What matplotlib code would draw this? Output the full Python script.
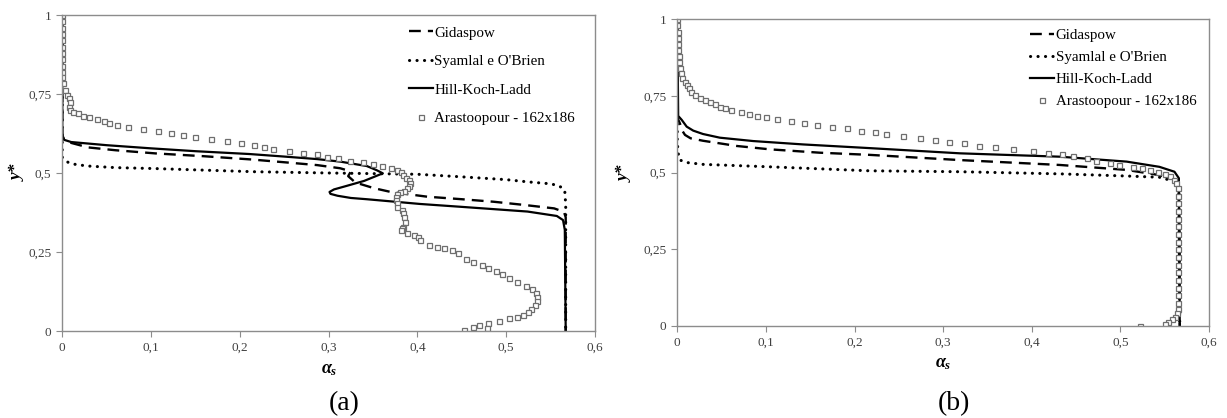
import numpy as np
import matplotlib
matplotlib.use("Agg")
import matplotlib.pyplot as plt
from matplotlib.ticker import FixedLocator, FuncFormatter

plt.rcParams["font.family"] = ["Liberation Serif", "DejaVu Serif"]
plt.rcParams["mathtext.fontset"] = "custom"
plt.rcParams["mathtext.it"] = "Liberation Serif:italic:bold"
plt.rcParams["mathtext.rm"] = "Liberation Serif:bold"

# ---- painel (a) ----
a_gid_x = [0, 0, 0.002, 0.005, 0.029, 0.06, 0.105, 0.16, 0.212, 0.25, 0.287, 0.313,
           0.325, 0.322, 0.33, 0.351, 0.37, 0.411, 0.45, 0.486, 0.52, 0.554, 0.565,
           0.567, 0.567]
a_gid_y = [1.0, 0.62, 0.605, 0.599, 0.581, 0.572, 0.562, 0.553, 0.543, 0.534, 0.525, 0.515,
           0.505, 0.49, 0.47, 0.452, 0.44, 0.425, 0.417, 0.409, 0.399, 0.388, 0.377,
           0.36, 0.0]

a_sya_x = [0, 0, 0.003, 0.007, 0.015, 0.029, 0.06, 0.105, 0.16, 0.217, 0.3, 0.4, 0.449,
           0.5, 0.524, 0.545, 0.557, 0.564, 0.566, 0.567, 0.567]
a_sya_y = [1.0, 0.55, 0.54, 0.533, 0.527, 0.522, 0.517, 0.514, 0.509, 0.504, 0.5, 0.496, 0.488,
           0.479, 0.472, 0.467, 0.462, 0.452, 0.441, 0.4, 0.0]

a_hkl_x = [0, 0, 0.002, 0.01, 0.05, 0.1, 0.15, 0.211, 0.25, 0.287, 0.313, 0.343, 0.354,
           0.361, 0.34, 0.32, 0.306, 0.301, 0.302, 0.31, 0.325, 0.343, 0.403, 0.449,
           0.524, 0.557, 0.564, 0.566, 0.567]
a_hkl_y = [1.0, 0.62, 0.605, 0.598, 0.588, 0.578, 0.569, 0.56, 0.552, 0.544, 0.536, 0.522, 0.509,
           0.499, 0.475, 0.459, 0.448, 0.44, 0.434, 0.428, 0.421, 0.417, 0.402, 0.393,
           0.378, 0.364, 0.351, 0.32, 0.0]

a_ara_x = [0.0, 0.0, 0.0, 0.0, 0.0, 0.0, 0.0, 0.0, 0.0, 0.0, 0.0, 0.0012, 0.003, 0.005,
           0.0071, 0.0087, 0.008, 0.0087, 0.0124, 0.0173, 0.023, 0.030, 0.0388, 0.047,
           0.053, 0.062, 0.074, 0.091, 0.108, 0.1225, 0.136, 0.15, 0.167, 0.185, 0.201,
           0.216, 0.227, 0.237, 0.255, 0.271, 0.287, 0.298, 0.31, 0.324, 0.339, 0.35,
           0.36, 0.37, 0.377, 0.3815, 0.384, 0.387, 0.39, 0.392, 0.391, 0.388, 0.385,
           0.38, 0.377, 0.376, 0.376, 0.377, 0.377, 0.383, 0.384, 0.385, 0.386, 0.384,
           0.383, 0.381, 0.388, 0.396, 0.401, 0.403, 0.413, 0.422, 0.43, 0.439, 0.446,
           0.455, 0.463, 0.473, 0.48, 0.488, 0.495, 0.503, 0.512, 0.522, 0.529, 0.533,
           0.535, 0.535, 0.532, 0.528, 0.524, 0.519, 0.512, 0.503, 0.492, 0.48, 0.478,
           0.469, 0.463, 0.452]
a_ara_y = [1.0, 0.98, 0.96, 0.94, 0.92, 0.9, 0.88, 0.86, 0.84, 0.82, 0.805, 0.784, 0.763, 0.747,
           0.736, 0.726, 0.71, 0.70, 0.694, 0.689, 0.680, 0.676, 0.672, 0.665,
           0.657, 0.652, 0.645, 0.639, 0.632, 0.628, 0.619, 0.615, 0.608, 0.602, 0.596,
           0.590, 0.583, 0.576, 0.571, 0.564, 0.559, 0.552, 0.546, 0.539, 0.534, 0.527,
           0.522, 0.515, 0.509, 0.502, 0.494, 0.485, 0.478, 0.469, 0.46, 0.452, 0.443,
           0.441, 0.434, 0.425, 0.415, 0.404, 0.391, 0.383, 0.372, 0.36, 0.346, 0.33,
           0.325, 0.32, 0.311, 0.304, 0.296, 0.288, 0.272, 0.267, 0.262, 0.256, 0.246,
           0.228, 0.219, 0.209, 0.2, 0.191, 0.18, 0.167, 0.156, 0.142, 0.132, 0.121,
           0.109, 0.096, 0.082, 0.069, 0.059, 0.051, 0.045, 0.04, 0.033, 0.026, 0.008,
           0.019, 0.014, 0.003]

# ---- painel (b) ----
b_gid_x = [0, 0.0, 0.003, 0.006, 0.0087, 0.015, 0.029, 0.067, 0.1045, 0.161, 0.217, 0.319,
           0.432, 0.507, 0.544, 0.563, 0.566, 0.567]
b_gid_y = [1.0, 0.68, 0.66, 0.635, 0.623, 0.612, 0.604, 0.587, 0.576, 0.565, 0.558, 0.541,
           0.525, 0.509, 0.492, 0.476, 0.46, 0.0]

b_sya_x = [0, 0, 0.001, 0.003, 0.0106, 0.029, 0.1045, 0.217, 0.319, 0.432, 0.507, 0.544,
           0.563, 0.566, 0.567]
b_sya_y = [1.0, 0.6, 0.563, 0.541, 0.533, 0.527, 0.519, 0.506, 0.503, 0.496, 0.489, 0.485,
           0.47, 0.45, 0.0]

b_hkl_x = [0, 0.001, 0.005, 0.0106, 0.018, 0.029, 0.048, 0.0857, 0.142, 0.217, 0.319, 0.432,
           0.507, 0.544, 0.561, 0.566, 0.567]
b_hkl_y = [1.0, 0.685, 0.672, 0.65, 0.637, 0.626, 0.614, 0.603, 0.592, 0.58, 0.563, 0.552,
           0.536, 0.519, 0.503, 0.482, 0.0]

b_ara_x = [0.0, 0.0, 0.001, 0.001, 0.001, 0.001, 0.002, 0.002, 0.003, 0.004, 0.0056, 0.0087,
           0.0106, 0.0135, 0.016, 0.02, 0.0256, 0.031, 0.0369, 0.0425, 0.048, 0.054,
           0.061, 0.0715, 0.081, 0.0895, 0.0997, 0.113, 0.128, 0.143, 0.158, 0.175, 0.191,
           0.207, 0.223, 0.236, 0.255, 0.274, 0.291, 0.307, 0.323, 0.341, 0.359, 0.379,
           0.401, 0.418, 0.434, 0.447, 0.462, 0.473, 0.488, 0.499, 0.514, 0.524, 0.533,
           0.542, 0.55, 0.556, 0.561, 0.563, 0.565, 0.565, 0.565, 0.565, 0.565, 0.565,
           0.565, 0.565, 0.565, 0.565, 0.565, 0.565, 0.565, 0.565, 0.565, 0.565, 0.565,
           0.564, 0.5615, 0.558, 0.554, 0.55, 0.522]
b_ara_y = [1.0, 0.98, 0.96, 0.94, 0.92, 0.9, 0.88, 0.86, 0.84, 0.824, 0.808, 0.797,
           0.786, 0.775, 0.764, 0.753, 0.742, 0.737, 0.729, 0.723, 0.715, 0.71,
           0.704, 0.697, 0.691, 0.685, 0.680, 0.674, 0.669, 0.661, 0.655, 0.648, 0.645,
           0.637, 0.632, 0.625, 0.62, 0.612, 0.606, 0.599, 0.596, 0.588, 0.583, 0.576,
           0.571, 0.565, 0.56, 0.554, 0.547, 0.539, 0.530, 0.525, 0.519, 0.514, 0.509,
           0.503, 0.496, 0.489, 0.476, 0.465, 0.45, 0.425, 0.4, 0.375, 0.35, 0.325,
           0.3, 0.275, 0.25, 0.225, 0.2, 0.175, 0.15, 0.125, 0.1, 0.075, 0.055,
           0.041, 0.028, 0.022, 0.014, 0.0065, 0.0]

x_ticks = [0, 0.1, 0.2, 0.3, 0.4, 0.5, 0.6]
y_ticks = [0, 0.25, 0.5, 0.75, 1]
labels = ["Gidaspow", "Syamlal e O'Brien", "Hill-Koch-Ladd", "Arastoopour - 162x186"]

W, H = 1227, 418
fig = plt.figure(figsize=(W / 100, H / 100), dpi=100)


def px_box(l, t, r, b):
    return [l / W, (H - b) / H, (r - l) / W, (b - t) / H]


def comma(v, pos):
    return ("%g" % v).replace(".", ",")


def draw_panel(ax, gid, sya, hkl, ara, leg_xy, leg_sp):
    ax.plot(gid[0], gid[1], color="black", lw=1.7, ls=(0, (5, 3)), label=labels[0])
    ax.plot(sya[0], sya[1], color="black", lw=2.2, ls=(0, (0.05, 2.4)),
            dash_capstyle="round", label=labels[1])
    ax.plot(hkl[0], hkl[1], color="black", lw=1.6, label=labels[2])
    ax.plot(ara[0], ara[1], ls="none", marker="s", ms=3.6, mfc="white",
            mec="#6e6e6e", mew=0.9, label=labels[3])
    ax.set_xlim(0, 0.6)
    ax.set_ylim(0, 1)
    ax.xaxis.set_major_locator(FixedLocator(x_ticks))
    ax.yaxis.set_major_locator(FixedLocator(y_ticks))
    ax.xaxis.set_major_formatter(FuncFormatter(comma))
    ax.yaxis.set_major_formatter(FuncFormatter(comma))
    ax.tick_params(direction="out", length=4, width=0.8, color="#8c8c8c",
                   labelsize=9.5, labelcolor="#404040", pad=4)
    for s in ax.spines.values():
        s.set_color("#8c8c8c")
        s.set_linewidth(1.0)
    ax.legend(loc="upper left", bbox_to_anchor=leg_xy, bbox_transform=fig.transFigure,
              frameon=False, fontsize=10.8, handlelength=1.6, handletextpad=0.1,
              labelspacing=leg_sp, borderpad=0, borderaxespad=0, numpoints=1)


ax1 = fig.add_axes(px_box(62.3, 15, 595, 331))
draw_panel(ax1, (a_gid_x, a_gid_y), (a_sya_x, a_sya_y), (a_hkl_x, a_hkl_y),
           (a_ara_x, a_ara_y), (409 / W, 1 - 26 / H), 1.0)

ax2 = fig.add_axes(px_box(677.3, 19.3, 1209, 326))
draw_panel(ax2, (b_gid_x, b_gid_y), (b_sya_x, b_sya_y), (b_hkl_x, b_hkl_y),
           (b_ara_x, b_ara_y), (1030 / W, 1 - 29 / H), 0.55)

# rotulos dos eixos
for cx, cy in [(18, 173), (625, 174)]:
    fig.text(cx / W, 1 - cy / H, "y*", rotation=90, ha="center", va="center",
             fontsize=12.5, fontweight="bold", fontstyle="italic")
for cx, cy in [(329, 369), (943, 363)]:
    fig.text(cx / W, 1 - cy / H, r"$\alpha_s$", ha="center", va="center", fontsize=13)

fig.text(344 / W, 1 - 404 / H, "(a)", ha="center", va="center", fontsize=20)
fig.text(954 / W, 1 - 404 / H, "(b)", ha="center", va="center", fontsize=20)

fig.savefig("out.png", dpi=100)
